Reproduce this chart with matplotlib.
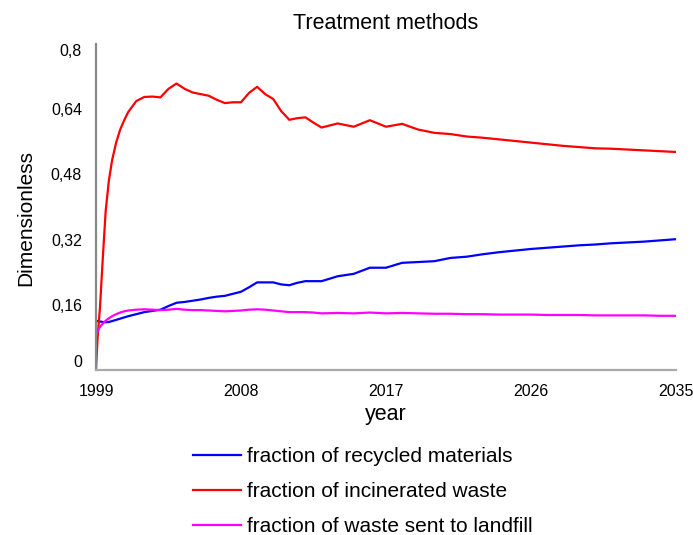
import matplotlib
matplotlib.use("Agg")
import matplotlib.pyplot as plt

plt.rcParams['font.family'] = ['Liberation Sans', 'DejaVu Sans']

# simulation output
years = [1999.0, 1999.1, 1999.25, 1999.4, 1999.6, 1999.8, 2000.0, 2000.25, 2000.5, 2000.75,
         2001.0, 2001.5, 2002.0, 2002.5, 2003.0, 2003.5, 2004.0, 2004.5, 2005.0, 2005.5,
         2006.0, 2006.5, 2007.0, 2007.5, 2008.0, 2008.5, 2009.0, 2009.5, 2010.0, 2010.5,
         2011.0, 2011.5, 2012.0, 2012.5, 2013.0, 2014.0, 2015.0, 2016.0, 2017.0, 2018.0,
         2019.0, 2020.0, 2021.0, 2022.0, 2023.0, 2024.0, 2025.0, 2026.0, 2027.0, 2028.0,
         2029.0, 2030.0, 2031.0, 2032.0, 2033.0, 2034.0, 2035.0]

recycled = [0.121, 0.120, 0.119, 0.118, 0.117, 0.118, 0.120, 0.123, 0.126, 0.129,
            0.132, 0.137, 0.142, 0.145, 0.148, 0.157, 0.165, 0.167, 0.170, 0.173,
            0.177, 0.180, 0.182, 0.187, 0.192, 0.203, 0.215, 0.215, 0.215, 0.210,
            0.208, 0.214, 0.218, 0.218, 0.218, 0.230, 0.236, 0.251, 0.251, 0.263,
            0.265, 0.267, 0.275, 0.278, 0.284, 0.289, 0.293, 0.297, 0.300, 0.303,
            0.306, 0.308, 0.311, 0.313, 0.315, 0.318, 0.321]

incinerated = [0.0, 0.08, 0.155, 0.26, 0.39, 0.465, 0.515, 0.558, 0.590, 0.613,
               0.633, 0.660, 0.670, 0.671, 0.669, 0.690, 0.703, 0.690, 0.681, 0.677,
               0.673, 0.663, 0.655, 0.657, 0.657, 0.680, 0.695, 0.677, 0.665, 0.635,
               0.614, 0.618, 0.620, 0.607, 0.595, 0.605, 0.597, 0.613, 0.597, 0.604,
               0.590, 0.582, 0.579, 0.573, 0.570, 0.566, 0.562, 0.558, 0.554, 0.550,
               0.547, 0.544, 0.543, 0.541, 0.539, 0.537, 0.535]

landfill = [0.082, 0.095, 0.106, 0.113, 0.121, 0.127, 0.132, 0.137, 0.141, 0.144,
            0.146, 0.148, 0.149, 0.148, 0.147, 0.148, 0.150, 0.148, 0.147, 0.147,
            0.146, 0.145, 0.144, 0.145, 0.146, 0.148, 0.149, 0.148, 0.146, 0.144,
            0.142, 0.142, 0.142, 0.141, 0.139, 0.140, 0.139, 0.141, 0.139, 0.140,
            0.139, 0.138, 0.138, 0.137, 0.137, 0.136, 0.136, 0.136, 0.135, 0.135,
            0.135, 0.134, 0.134, 0.134, 0.134, 0.133, 0.133]

xticks = [1999, 2008, 2017, 2026, 2035]
yticks = [0, 0.16, 0.32, 0.48, 0.64, 0.8]
ytick_labels = ["0", "0,16", "0,32", "0,48", "0,64", "0,8"]

fig = plt.figure(figsize=(6.93, 5.35), dpi=100)
ax = fig.add_axes([96/693, 1 - 370/535, 580/693, 326/535])

ax.plot(years, recycled, color='#0000ff', lw=1.6, label='fraction of recycled materials')
ax.plot(years, incinerated, color='#ff0000', lw=1.6, label='fraction of incinerated waste')
ax.plot(years, landfill, color='#ff00ff', lw=1.6, label='fraction of waste sent to landfill')

ax.set_xlim(1999, 2035)
ax.set_ylim(0, 0.8)
ax.set_xticks(xticks)
ax.set_yticks(yticks)
ax.set_yticklabels(ytick_labels)
ax.tick_params(length=0, labelsize=11.5)
ax.tick_params(axis='x', pad=10)
ax.tick_params(axis='y', pad=10)
labs = ax.get_yticklabels()
labs[0].set_va('bottom')
labs[-1].set_va('top')

for s in ['top', 'right']:
    ax.spines[s].set_visible(False)
ax.spines['left'].set_color('#888888')
ax.spines['left'].set_linewidth(1.6)
ax.spines['bottom'].set_color('#aaaaaa')
ax.spines['bottom'].set_linewidth(1.6)

ax.set_title('Treatment methods', fontsize=15.5, pad=11)
ax.set_xlabel('year', fontsize=15.5, labelpad=4)
ax.set_ylabel('Dimensionless', fontsize=15)
ax.yaxis.set_label_coords(-0.105, 0.466)

fig.legend(loc='upper left', bbox_to_anchor=(193/693, 1 - 447/535), frameon=False,
           fontsize=15, handlelength=2.3, handletextpad=0.3, labelspacing=0.78,
           borderpad=0, borderaxespad=0)

fig.savefig('out.png', dpi=100)
